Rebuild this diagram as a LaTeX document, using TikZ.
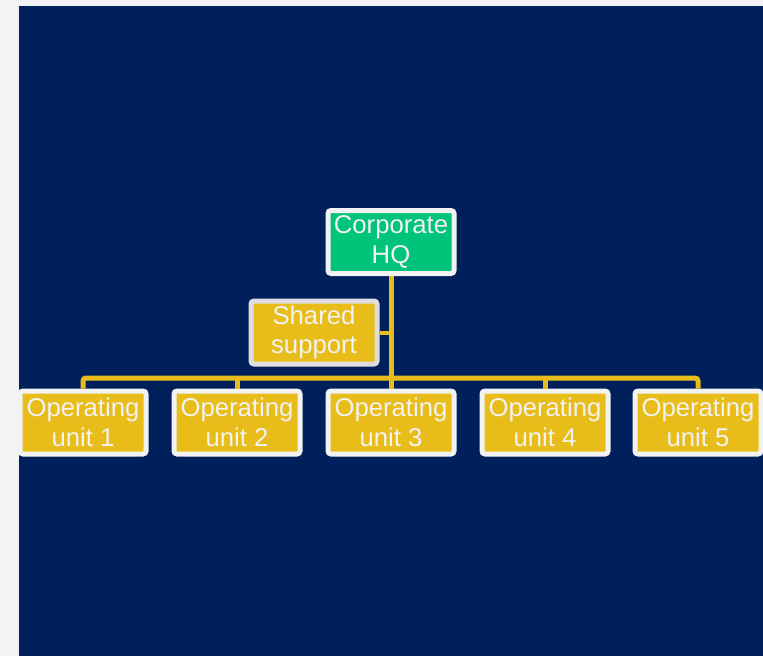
\documentclass[tikz,border=0pt]{standalone}
\usepackage{fontspec}
\setmainfont{Liberation Sans}
\definecolor{navy}{RGB}{0,32,91}
\definecolor{hqgreen}{RGB}{0,196,122}
\definecolor{unityellow}{RGB}{233,189,25}
\definecolor{pagegray}{RGB}{243,243,243}
\definecolor{txt}{RGB}{242,242,242}
\definecolor{edgegray}{RGB}{222,222,226}
\begin{document}
\begin{tikzpicture}[x=1pt,y=-1pt,
  bx/.style={draw=txt,line width=5pt,rounded corners=3pt,inner sep=0pt,
    minimum width=126pt,minimum height=63pt,align=center,text=txt,
    font=\fontsize{25.7}{29.5}\selectfont},
  unit/.style={bx,fill=unityellow},
  conn/.style={unityellow,line width=5pt}]
  \useasboundingbox (0,0) rectangle (763,656);
  \fill[pagegray] (0,0) rectangle (763,656);
  \fill[navy] (19,6) rectangle (763,656);
  \node[bx,fill=hqgreen] (hq) at (391,242) {Corporate\\HQ};
  \node[bx,fill=unityellow,draw=edgegray] (shared) at (314,332.5) {Shared\\support};
  \node[unit] (ou1) at (83,422.5)  {Operating\\unit 1};
  \node[unit] (ou2) at (237,422.5) {Operating\\unit 2};
  \node[unit] (ou3) at (391,422.5) {Operating\\unit 3};
  \node[unit] (ou4) at (545,422.5) {Operating\\unit 4};
  \node[unit] (ou5) at (698,422.5) {Operating\\unit 5};
  \coordinate (bus) at (391,378);
  \draw[conn] (hq.south) -- (ou3.north);
  \draw[conn,line width=4pt] (shared.east) -- (shared.east -| hq.south);
  \draw[conn,rounded corners=3pt] (ou1.north) |- (bus) -| (ou5.north);
  \draw[conn] (ou2.north) -- (ou2.north |- bus);
  \draw[conn] (ou4.north) -- (ou4.north |- bus);
\end{tikzpicture}
\end{document}
